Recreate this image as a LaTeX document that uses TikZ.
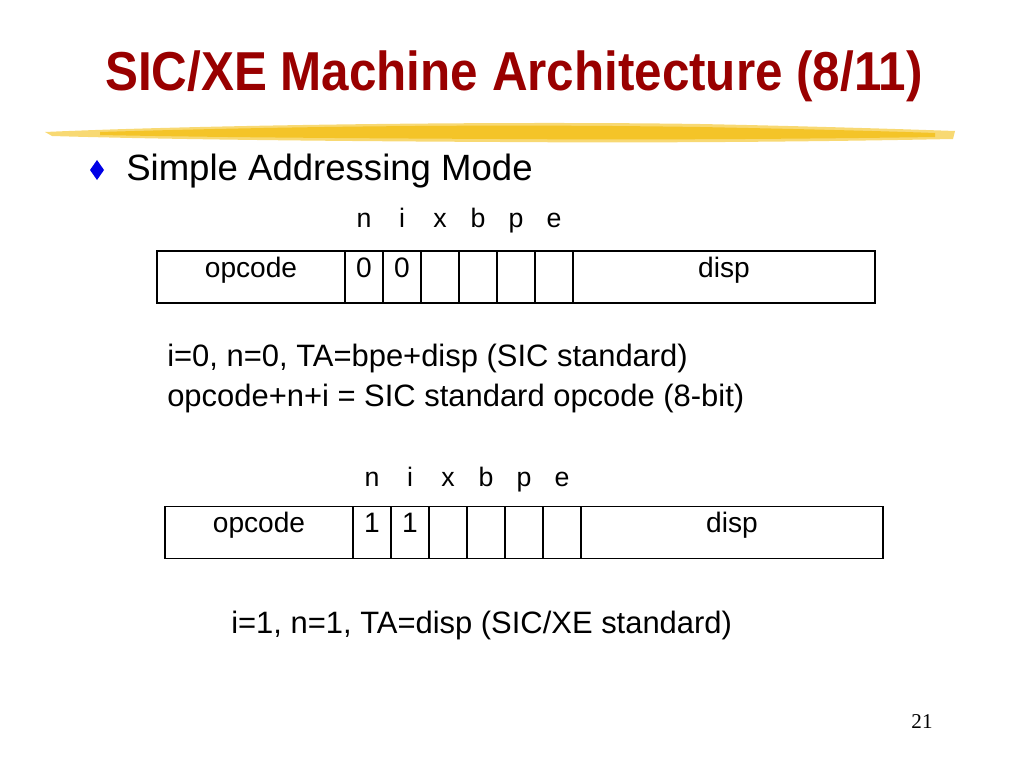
\documentclass[tikz,border=0pt]{standalone}
\usepackage{fontspec}
\setmainfont{Liberation Sans}
\newfontfamily\pagenumfont{Liberation Serif}

\definecolor{titlered}{RGB}{153,0,0}
\definecolor{brushyellow}{RGB}{244,196,40}
\definecolor{bulletblue}{RGB}{0,0,230}

\tikzset{
  cell/.style={draw,line width=0.8pt,inner sep=0pt,minimum height=1.3cm,
               text height=14pt,text depth=14pt,font=\fontsize{20}{24}\selectfont},
  bit/.style={cell,minimum width=0.95cm},
  flag/.style={anchor=base,inner sep=0pt,font=\fontsize{19}{23}\selectfont},
  line/.style={anchor=base west,inner sep=0pt,font=\fontsize{22}{26}\selectfont}
}

\begin{document}
\begin{tikzpicture}[x=0.025cm,y=-0.025cm]
\useasboundingbox (0,0) rectangle (1024,768);

% title and brush stroke
\node[anchor=base,inner sep=0pt,text=titlered,font=\bfseries\fontsize{39}{46}\selectfont] (title) at (514,91)
    {\scalebox{0.9}[1]{SIC/XE Machine Architecture (8/11)}};
\fill[brushyellow!65] (45,132) .. controls (200,125) and (500,121) .. (700,124)
    .. controls (800,126) and (900,129) .. (955,131)
    -- (953,139) .. controls (800,142) and (650,143) .. (500,142)
    .. controls (300,141) and (150,139) .. (52,136) -- cycle;
\fill[brushyellow] (100,132) .. controls (300,126) and (500,124) .. (700,127)
    .. controls (800,129) and (880,131) .. (935,133)
    -- (935,137) .. controls (800,139) and (650,140) .. (500,139)
    .. controls (300,138) and (200,137) .. (100,135) -- cycle;

% bullet
\fill[bulletblue] (97,160) -- (104,170) -- (97,180) -- (90,170) -- cycle;
\node[anchor=base west,inner sep=0pt,font=\fontsize{26}{30}\selectfont] (head) at (126,180) {Simple Addressing Mode};

% first format
\begin{scope}[every node/.style={flag}]
    \node (hn1) at (364,227) {n};
    \node (hi1) at (402,227) {i};
    \node (hx1) at (440,227) {x};
    \node (hb1) at (478,227) {b};
    \node (hp1) at (516,227) {p};
    \node (he1) at (554,227) {e};
\end{scope}
\node[cell,minimum width=4.7cm] (op1) at (251,277) {opcode};
\node[bit] (n1) at (364,277) {0};
\node[bit] (i1) at (402,277) {0};
\node[bit] (x1) at (440,277) {};
\node[bit] (b1) at (478,277) {};
\node[bit] (p1) at (516,277) {};
\node[bit] (e1) at (554,277) {};
\node[cell,minimum width=7.55cm] (d1) at (724,277) {disp};

\node[line] (t1) at (167,366) {i=0, n=0, TA=bpe+disp (SIC standard)};
\node[line] (t2) at (167,406) {opcode+n+i = SIC standard opcode (8-bit)};

% second format
\begin{scope}[every node/.style={flag}]
    \node (hn2) at (372,486) {n};
    \node (hi2) at (410,486) {i};
    \node (hx2) at (448,486) {x};
    \node (hb2) at (486,486) {b};
    \node (hp2) at (524,486) {p};
    \node (he2) at (562,486) {e};
\end{scope}
\begin{scope}[every node/.style={minimum height=1.225cm}]
    \node[cell,minimum width=4.7cm] (op2) at (259,532.5) {opcode};
    \node[bit] (n2) at (372,532.5) {1};
    \node[bit] (i2) at (410,532.5) {1};
    \node[bit] (x2) at (448,532.5) {};
    \node[bit] (b2) at (486,532.5) {};
    \node[bit] (p2) at (524,532.5) {};
    \node[bit] (e2) at (562,532.5) {};
    \node[cell,minimum width=7.55cm] (d2) at (732,532.5) {disp};
\end{scope}

\node[line] (t3) at (231,633) {i=1, n=1, TA=disp (SIC/XE standard)};

\node[font=\pagenumfont\fontsize{15}{18}\selectfont] (page) at (922,722) {21};
\end{tikzpicture}
\end{document}
